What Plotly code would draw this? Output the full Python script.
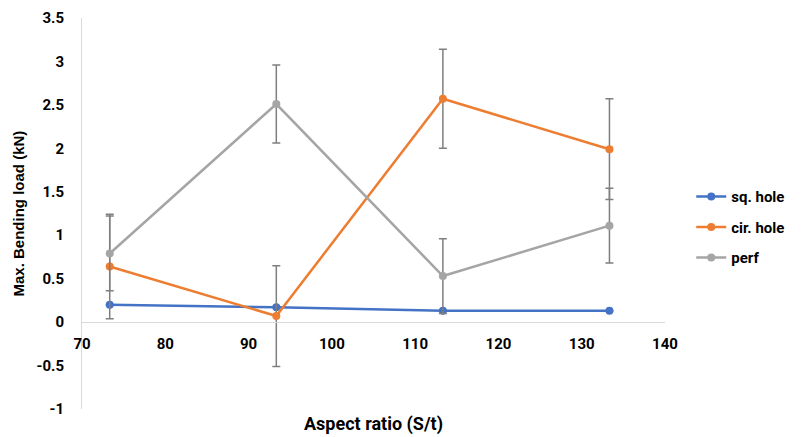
import plotly.graph_objects as go

# ---- data ----
aspect_ratio = [73.33, 93.33, 113.33, 133.33]

sq_hole = [0.20, 0.17, 0.13, 0.13]
cir_hole = [0.64, 0.07, 2.57, 1.99]
perf = [0.79, 2.51, 0.53, 1.11]

sq_hole_err = [0.0, 0.0, 0.0, 0.0]
cir_hole_err = [0.60, 0.58, 0.57, 0.58]
perf_err = [0.43, 0.45, 0.43, 0.43]

y_tick_vals = [-1, -0.5, 0, 0.5, 1, 1.5, 2, 2.5, 3, 3.5]
y_tick_text = ["-1", "-0.5", "0", "0.5", "1", "1.5", "2", "2.5", "3", "3.5"]
x_tick_vals = [70, 80, 90, 100, 110, 120, 130, 140]

series = [
    ("sq. hole", sq_hole, sq_hole_err, "#4472C4"),
    ("cir. hole", cir_hole, cir_hole_err, "#ED7D31"),
    ("perf", perf, perf_err, "#A5A5A5"),
]

FONT = "Roboto"

fig = go.Figure()
for name, vals, err, color in series:
    fig.add_trace(go.Scatter(
        x=aspect_ratio, y=vals, name=name, legendgroup=name,
        mode="lines+markers",
        line=dict(color=color, width=2.5),
        marker=dict(color=color, size=8),
        error_y=dict(type="data", array=err, visible=True,
                     color="#7F7F7F", thickness=1.5, width=4),
    ))

y_min, y_max = -1, 3.5
fig.update_layout(
    width=794, height=429,
    margin=dict(l=74, r=137, t=10, b=28, autoexpand=False),
    paper_bgcolor="white", plot_bgcolor="white",
    font=dict(family=FONT, size=14, color="black", weight="bold"),
    showlegend=True,
    legend=dict(x=1.045, y=0.465, xanchor="left", yanchor="middle",
                tracegroupgap=8, font=dict(size=15, weight="bold"),
                bgcolor="rgba(0,0,0,0)"),
    xaxis=dict(range=[70, 140], tickvals=x_tick_vals, automargin=False,
               showgrid=False, zeroline=False, showline=True,
               linecolor="#D9D9D9", linewidth=1,
               anchor="free", position=(0 - y_min) / (y_max - y_min),
               ticks="outside", ticklen=8, tickcolor="rgba(0,0,0,0)",
               tickfont=dict(size=15, weight="bold")),
    yaxis=dict(range=[y_min, y_max], tickvals=y_tick_vals, ticktext=y_tick_text,
               automargin=False,
               showgrid=False, zeroline=False, showline=True,
               linecolor="#D9D9D9", linewidth=1,
               ticks="outside", ticklen=14, tickcolor="rgba(0,0,0,0)",
               tickfont=dict(size=15, weight="bold")),
    annotations=[
        dict(text="Aspect ratio (S/t)", xref="paper", yref="paper",
             x=0.5, y=0, xanchor="center", yanchor="middle", yshift=-15,
             showarrow=False, font=dict(size=18, weight="bold")),
        dict(text="Max. Bending load (kN)", xref="paper", yref="paper",
             x=0, y=0.5, xanchor="center", yanchor="middle", xshift=-64,
             textangle=-90, showarrow=False,
             font=dict(family="Liberation Sans", size=15, weight="bold")),
    ],
)

fig.write_html("out.html")
